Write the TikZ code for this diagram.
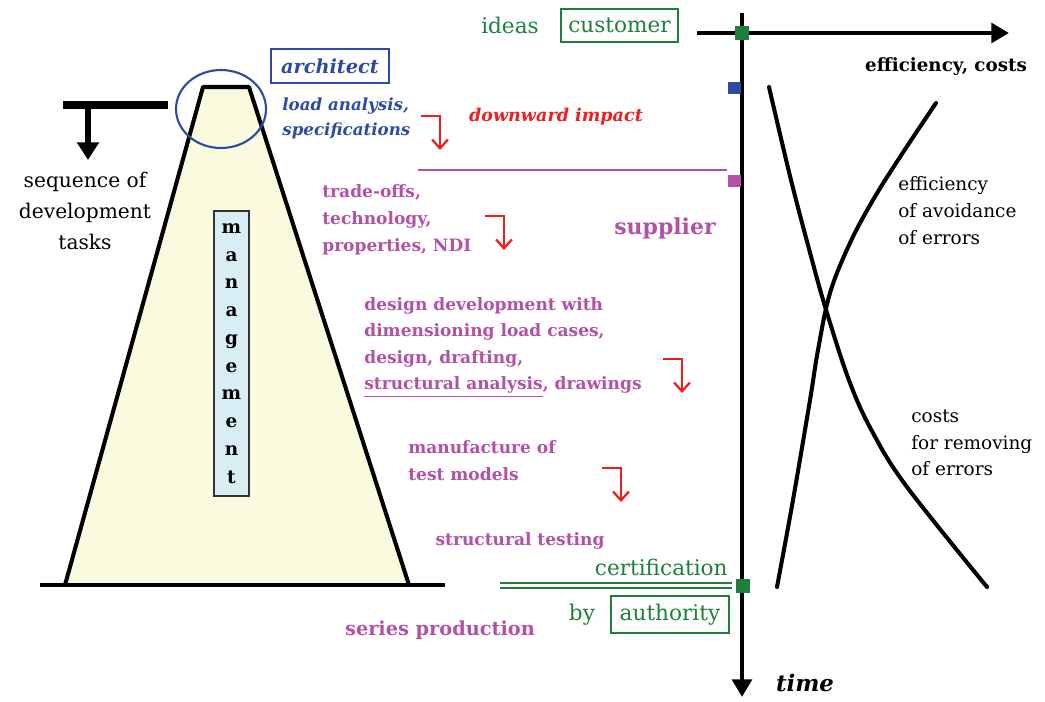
\documentclass[tikz,border=0pt]{standalone}
\usepackage{fontspec}
\setmainfont{DejaVu Serif}
\usetikzlibrary{arrows.meta}
\definecolor{mgreen}{RGB}{30,128,60}
\definecolor{mblue}{RGB}{45,75,165}
\definecolor{mpink}{RGB}{180,80,165}
\definecolor{mred}{RGB}{240,30,30}
\definecolor{mcream}{RGB}{250,250,222}
\definecolor{mice}{RGB}{215,238,245}
\tikzset{
  pinktext/.style={text=mpink, font=\bfseries\fontsize{9.7}{15.5}\selectfont, align=left, inner sep=0pt},
  greentext/.style={text=mgreen, font=\fontsize{12.3}{15}\selectfont, inner sep=2pt},
  blacktext/.style={text=black, font=\fontsize{10.5}{15.4}\selectfont, align=left, inner sep=0pt},
  downhook/.style={mred, line width=1.3pt, -{Straight Barb[length=5pt,width=9pt]}},
  curve/.style={line width=2.3pt, line cap=round}
}
\begin{document}
\begin{tikzpicture}[x=0.02cm, y=-0.02cm]
    \useasboundingbox (0,0) rectangle (1045,701);

    % Pyramid of development tasks
    \draw[fill=mcream, line width=2.3pt, line join=round] (65,585) -- (203,87) -- (249,87) -- (409,585);
    \draw[line width=2.3pt] (40,585) -- (445,585);
    \node[draw=black!80, fill=mice, line width=0.8pt, minimum width=0.7cm, minimum height=5.7cm, inner sep=0pt,
          align=center, font=\bfseries\fontsize{10.5}{15.8}\selectfont] (mgmt) at (231.5,353.5)
          {m\\a\\n\\a\\g\\e\\m\\e\\n\\t};

    % Sequence arrow
    \draw[line width=4pt] (63,105) -- (168,105);
    \draw[line width=3pt, -{Triangle[length=10pt,width=12pt]}] (88,105) -- (88,160);
    \node[align=center, font=\fontsize{11.5}{17.6}\selectfont] (seq) at (85,211) {sequence of\\development\\tasks};

    % Architect
    \draw[mblue, line width=1.2pt] (221,109) ellipse (45 and 39);
    \node[draw=mblue, line width=0.8pt, text=mblue, font=\bfseries\itshape\fontsize{11}{13}\selectfont,
          minimum width=2.36cm, minimum height=0.68cm] (arch) at (330,66) {architect};
    \node[anchor=west, text=mblue, align=left, inner sep=0pt,
          font=\bfseries\itshape\fontsize{9.5}{14.2}\selectfont] (load) at (282,118.5) {load analysis,\\specifications};
    \node[text=mred, font=\bfseries\itshape\fontsize{10}{12}\selectfont] (down) at (556,117) {downward impact};

    % Supplier tasks
    \draw[mpink, line width=1.2pt] (418,170) -- (727,170);
    \node[pinktext, anchor=west] (trade) at (322,220) {trade-offs,\\technology,\\properties, NDI};
    \node[pinktext, font=\bfseries\fontsize{12.5}{15}\selectfont] (supp) at (665,228) {supplier};
    \node[pinktext, anchor=west, font=\bfseries\fontsize{9.7}{15.1}\selectfont] (design) at (364,347)
          {design development with\\dimensioning load cases,\\design, drafting,\\\underline{structural analysis}, drawings};
    \node[pinktext, anchor=west] (manu) at (408,461) {manufacture of\\test models};
    \node[pinktext] (test) at (520,541) {structural testing};
    \node[pinktext, font=\bfseries\fontsize{11}{13}\selectfont] (series) at (440,630) {series production};

    % Downward arrows
    \foreach \hx/\hy in {421/116, 485/216, 663/359, 602/468}
      \draw[downhook] (\hx,\hy) -- ++(19,0) -- ++(0,34);

    % Customer and authority
    \node[greentext] (ideas) at (510,25) {ideas};
    \node[greentext, draw=mgreen, line width=0.8pt, minimum width=2.34cm, minimum height=0.66cm] (cust) at (619.5,25.5) {customer};
    \node[greentext, anchor=east, inner sep=0pt] (cert) at (728,567) {certification};
    \draw[mgreen, line width=1pt] (500,583) -- (732,583);
    \draw[mgreen, line width=1pt] (500,588) -- (732,588);
    \node[greentext] (by) at (582,615) {by};
    \node[greentext, draw=mgreen, line width=0.8pt, minimum width=2.36cm, minimum height=0.74cm] (auth) at (670,614.5) {authority};

    % Axes
    \draw[line width=2.8pt, -{Triangle[length=10pt,width=11pt]}] (742,13) -- (742,697);
    \draw[line width=2.8pt, -{Triangle[length=10pt,width=11pt]}] (697,33) -- (1009,33);
    \fill[mgreen] (735,26) rectangle (749,40);
    \fill[mgreen] (736,579) rectangle (750,593);
    \fill[mblue] (728,82) rectangle (741,94);
    \fill[mpink] (728,175) rectangle (741,187);
    \node[font=\bfseries\fontsize{10.4}{12}\selectfont] (effc) at (946,67) {efficiency, costs};
    \node[font=\bfseries\itshape\fontsize{13}{15}\selectfont] (time) at (805,683) {time};

    % Curves
    \draw[curve] plot[smooth, tension=0.6] coordinates {(769,87) (791,180) (812,260) (827,313) (850,383) (873,433) (907,487) (987,587)};
    \draw[curve] plot[smooth, tension=0.6] coordinates {(936,103) (900,157) (873,200) (850,243) (830,293) (818,350) (810,400) (793,500) (777,587)};
    \node[blacktext, anchor=west] (avoid) at (898,211) {efficiency\\of avoidance\\of errors};
    \node[blacktext, anchor=west, font=\fontsize{10.5}{15}\selectfont] (remove) at (911,443) {costs\\for removing\\of errors};
\end{tikzpicture}
\end{document}
